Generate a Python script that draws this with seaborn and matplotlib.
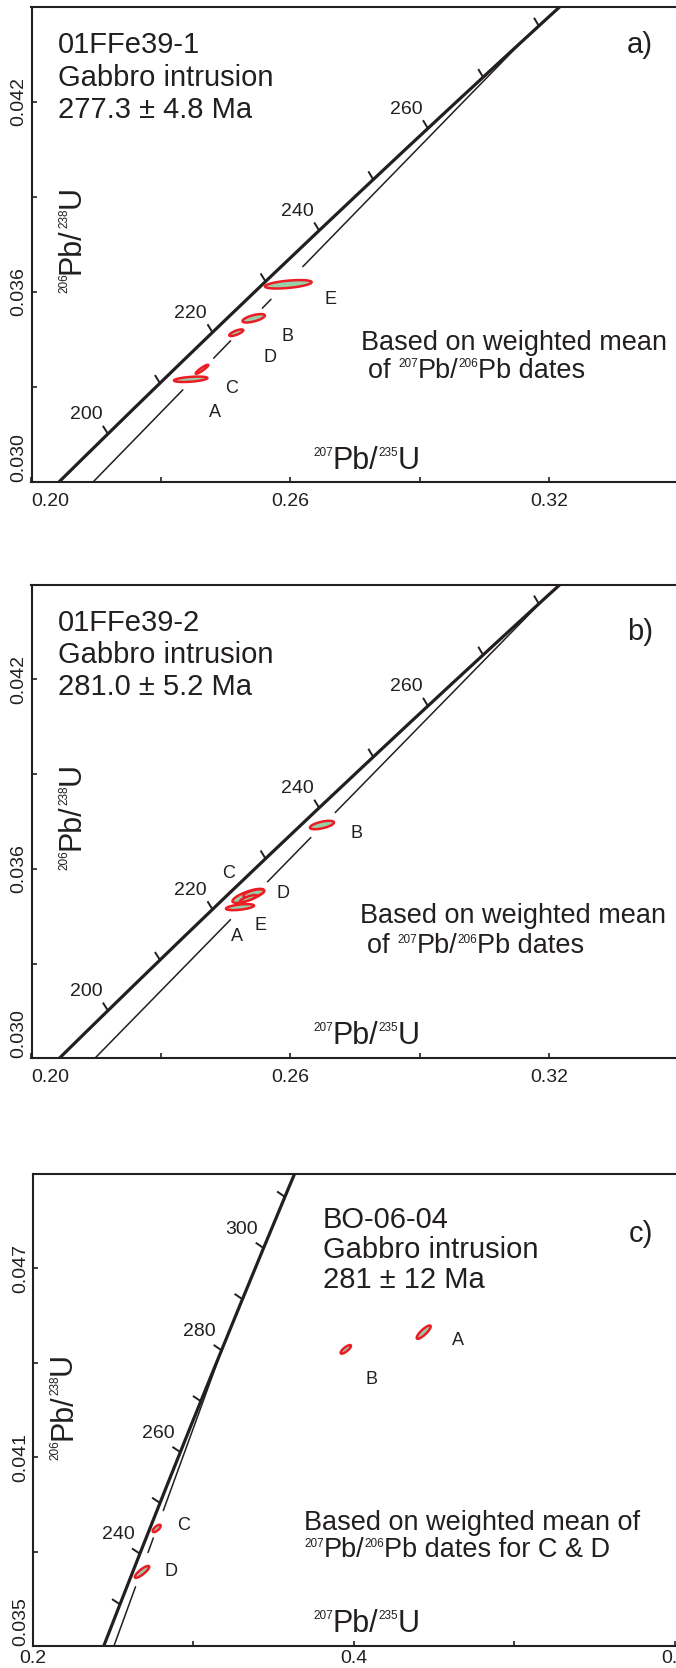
import numpy as np
import pandas as pd
import matplotlib
matplotlib.use("Agg")
import matplotlib.pyplot as plt
from matplotlib.transforms import IdentityTransform
import seaborn as sns

# decay constants (1/yr)
L238 = 1.55125e-10
L235 = 9.8485e-10

# ---- analyses: 207Pb/235U, 206Pb/238U, 2-sigma half extents, error correlation ----
a_labels = ["A", "C", "D", "B", "E"]
a_x = [0.23688, 0.23949, 0.24744, 0.25147, 0.25949]
a_y = [0.033234, 0.03355, 0.034705, 0.035160, 0.036234]
a_sx = [0.00387, 0.00146, 0.00162, 0.00259, 0.00540]
a_sy = [0.000085, 0.000142, 0.000104, 0.000133, 0.000133]
a_rho = [0.45, 0.92, 0.75, 0.65, 0.50]

b_labels = ["A", "C", "D", "E", "B"]
b_x = [0.24830, 0.25022, 0.25150, 0.25020, 0.26729]
b_y = [0.034787, 0.035144, 0.035220, 0.035060, 0.037387]
b_sx = [0.00324, 0.00366, 0.00240, 0.00190, 0.00278]
b_sy = [0.000095, 0.000221, 0.000130, 0.000110, 0.000133]
b_rho = [0.50, 0.75, 0.60, 0.80, 0.60]

c_labels = ["D", "C", "B", "A"]
c_x = [0.26796, 0.27712, 0.39501, 0.44358]
c_y = [0.037354, 0.038734, 0.044421, 0.044968]
c_sx = [0.00449, 0.00249, 0.00322, 0.00436]
c_sy = [0.000190, 0.000116, 0.000137, 0.000211]
c_rho = [0.85, 0.70, 0.80, 0.85]

# weighted mean 207Pb/206Pb ages (Ma) used as upper intercepts
ages = {"a": 277.3, "b": 281.0, "c": 281.0}
age_err = {"a": "4.8", "b": "5.2", "c": "12"}

# concordia age marks
a_ticks = list(range(200, 290, 10))
c_ticks = list(range(230, 320, 10))
a_tick_labels = [200, 220, 240, 260]
c_tick_labels = [240, 260, 280, 300]

# visible stretches of the Pb-loss chord (206Pb/238U ranges; None = intercept)
a_chord = [(0.030, 0.03290), (0.03390, 0.03445), (0.03548, 0.03576), (0.03679, None)]
b_chord = [(0.030, 0.03439), (0.03559, 0.03699), (0.03778, None)]
c_chord = [(0.035, 0.03688), (0.03797, 0.03843), (0.03930, None)]

# label offsets from ellipse centres (pixels)
a_lab_off = [(24, -33), (30, -19), (34, -25), (34, -18), (42, -15)]
b_lab_off = [(-3, -29), (-20, 22), (29, 0), (12, -27), (35, -8)]
c_lab_off = [(29, 0), (27, 3), (26, -30), (34, -8)]

W, H = 676, 1668
DPI = 100

sns.set_theme(style="ticks")
plt.rcParams["font.family"] = ["Liberation Sans", "DejaVu Sans"]
plt.rcParams["mathtext.default"] = "regular"

INK = "#231F20"
RED = "#ED1C24"
GREEN = "#98CEA8"
MAIN = ["Liberation Sans", "DejaVu Sans"]
NARROW = ["Liberation Sans Narrow", "Liberation Sans", "DejaVu Sans"]

fig = plt.figure(figsize=(W / DPI, H / DPI), dpi=DPI)
renderer = fig.canvas.get_renderer()


def concordia(t_ma):
    t = np.asarray(t_ma, dtype=float) * 1e6
    return np.expm1(L235 * t), np.expm1(L238 * t)


def place_axes(left_px, top_px, bottom_px, width_px):
    return fig.add_axes([left_px / W, 1 - bottom_px / H, width_px / W, (bottom_px - top_px) / H])


def style_axes(ax, xticks, xlabels, yticks, ylabels, first_x_left=False, xpad=8):
    ax.set_xticks(xticks)
    ax.set_xticklabels(xlabels)
    ax.set_yticks(yticks)
    ax.set_yticklabels(ylabels)
    ax.tick_params(direction="in", length=3.3, width=1.2, colors=INK, labelsize=14,
                   top=False, right=False)
    ax.tick_params(axis="x", pad=xpad)
    ax.tick_params(axis="y", pad=3)
    ylabs = ax.get_yticklabels()
    for lab in ylabs:
        lab.set_rotation(90)
        lab.set_va("center")
    ylabs[0].set_va("bottom")
    if first_x_left:
        ax.get_xticklabels()[0].set_ha("left")
    for s in ax.spines.values():
        s.set_linewidth(1.5)
        s.set_color(INK)
    ax.grid(False)


def finish_axes(ax):
    ax.set_xlabel("")
    ax.set_ylabel("")


def rich_text(x_px, y_px, pieces, rotation=0):
    """Draw a run of text pieces (text, size, family, rise_px) starting at a baseline point."""
    adv = 0.0
    for s, size, fam, rise in pieces:
        if rotation == 0:
            xd, yd = x_px + adv, (H - y_px) + rise
        else:
            xd, yd = x_px - rise, (H - y_px) + adv
        t = fig.text(xd, yd, s, fontsize=size, family=fam, color=INK, rotation=rotation,
                     ha="left", va="baseline", rotation_mode="anchor",
                     transform=IdentityTransform())
        bb = t.get_window_extent(renderer)
        adv += bb.width if rotation == 0 else bb.height


def iso_label(x_px, y_px, a, b, elem, rotation=0, main=22, sup=8.5, rise=13):
    rich_text(x_px, y_px, [(a, sup, NARROW, rise), ("Pb/", main, MAIN, 0),
                           (b, sup, NARROW, rise), (elem, main, MAIN, 0)],
              rotation=rotation)


def draw_concordia(ax, tick_ages, tick_labels):
    t = np.linspace(150, 350, 600)
    cx, cy = concordia(t)
    df = pd.DataFrame({"x": cx, "y": cy})
    sns.lineplot(data=df, x="x", y="y", ax=ax, sort=False, estimator=None,
                 color=INK, linewidth=2.3, zorder=2)
    ang = np.deg2rad(78)
    rot = np.array([[np.cos(ang), -np.sin(ang)], [np.sin(ang), np.cos(ang)]])
    inv = ax.transData.inverted()
    for age in tick_ages:
        p0 = ax.transData.transform(np.column_stack(concordia(age)))[0]
        p1 = ax.transData.transform(np.column_stack(concordia(age + 0.5)))[0]
        d = (p1 - p0) / np.hypot(*(p1 - p0))
        p2 = p0 + rot @ d * 9.5
        seg = inv.transform(np.vstack([p0, p2]))
        ax.plot(seg[:, 0], seg[:, 1], color=INK, lw=1.4, solid_capstyle="butt", zorder=2)
        if age in tick_labels:
            ax.annotate(str(age), xy=tuple(np.ravel(concordia(age))), xytext=(-22, 19),
                        textcoords="offset pixels", ha="center", va="center",
                        fontsize=14, color=INK)


def draw_chord(ax, age, stretches):
    xi, yi = concordia(age)
    slope = yi / xi
    for y0, y1 in stretches:
        y1 = yi if y1 is None else y1
        ys = np.array([y0, y1])
        df = pd.DataFrame({"x": ys / slope, "y": ys})
        sns.lineplot(data=df, x="x", y="y", ax=ax, sort=False, estimator=None,
                     color=INK, linewidth=1.1, zorder=2)


def draw_ellipses(ax, labels, xs, ys, sxs, sys_, rhos, offsets):
    phi = np.linspace(0, 2 * np.pi, 200)
    for lab, x, y, sx, sy, r, off in zip(labels, xs, ys, sxs, sys_, rhos, offsets):
        ex = x + sx * np.cos(phi)
        ey = y + sy * (r * np.cos(phi) + np.sqrt(1 - r * r) * np.sin(phi))
        ax.fill(ex, ey, facecolor=GREEN, edgecolor=RED, linewidth=1.8, zorder=3)
        ax.annotate(lab, xy=(x, y), xytext=off, textcoords="offset pixels",
                    ha="center", va="center", fontsize=13, color=INK)


ab_xticks = np.arange(0.20, 0.3801, 0.03)
ab_xlabels = ["0.20", "", "0.26", "", "0.32", "", ""]
ab_yticks = np.arange(0.030, 0.0451, 0.003)
ab_ylabels = ["0.030", "", "0.036", "", "0.042", ""]

# ---------------- panel a ----------------
ax_a = place_axes(31.5, 6.7, 481.7, 777)
ax_a.set_xlim(0.20, 0.38)
ax_a.set_ylim(0.030, 0.045)
style_axes(ax_a, ab_xticks, ab_xlabels, ab_yticks, ab_ylabels, first_x_left=True)
draw_concordia(ax_a, a_ticks, a_tick_labels)
draw_chord(ax_a, ages["a"], a_chord)
draw_ellipses(ax_a, a_labels, a_x, a_y, a_sx, a_sy, a_rho, a_lab_off)
finish_axes(ax_a)

# ---------------- panel b ----------------
ax_b = place_axes(31.5, 584.6, 1058.3, 777)
ax_b.set_xlim(0.20, 0.38)
ax_b.set_ylim(0.030, 0.045)
style_axes(ax_b, ab_xticks, ab_xlabels, ab_yticks, ab_ylabels, first_x_left=True)
draw_concordia(ax_b, a_ticks, a_tick_labels)
draw_chord(ax_b, ages["b"], b_chord)
draw_ellipses(ax_b, b_labels, b_x, b_y, b_sx, b_sy, b_rho, b_lab_off)
finish_axes(ax_b)

# ---------------- panel c ----------------
ax_c = place_axes(33, 1173.7, 1646, 802)
ax_c.set_xlim(0.2, 0.7)
ax_c.set_ylim(0.035, 0.050)
style_axes(ax_c, np.arange(0.2, 0.701, 0.1), ["0.2", "", "0.4", "", "0.6", ""],
           np.arange(0.035, 0.0501, 0.003), ["0.035", "", "0.041", "", "0.047", ""], xpad=3)
draw_concordia(ax_c, c_ticks, c_tick_labels)
draw_chord(ax_c, ages["c"], c_chord)
draw_ellipses(ax_c, c_labels, c_x, c_y, c_sx, c_sy, c_rho, c_lab_off)
finish_axes(ax_c)

# ---------------- annotations ----------------
TITLE = 21
BODY = 19.5


def block(x_px, baselines, lines, size):
    for yb, s in zip(baselines, lines):
        fig.text(x_px, H - yb, s, fontsize=size, color=INK, ha="left", va="baseline",
                 transform=IdentityTransform())


block(58, [53.3, 86, 118.3], ["01FFe39-1", "Gabbro intrusion", f"{ages['a']:.1f} \u00b1 {age_err['a']} Ma"], TITLE)
block(58, [631, 663, 695], ["01FFe39-2", "Gabbro intrusion", f"{ages['b']:.1f} \u00b1 {age_err['b']} Ma"], TITLE)
block(323, [1228.3, 1258.3, 1288.3], ["BO-06-04", "Gabbro intrusion", f"{ages['c']:.0f} \u00b1 {age_err['c']} Ma"], TITLE)

block(627, [53.3], ["a)"], TITLE)
block(627, [640], ["b)"], TITLE)
block(629, [1241.7], ["c)"], TITLE)

block(361, [350], ["Based on weighted mean"], BODY)
rich_text(368, 377.7, [("of ", BODY, MAIN, 0), ("207", 8.5, NARROW, 10.5), ("Pb/", BODY, MAIN, 0),
                       ("206", 8.5, NARROW, 10.5), ("Pb dates", BODY, MAIN, 0)])
block(360, [923], ["Based on weighted mean"], BODY)
rich_text(367, 953.3, [("of ", BODY, MAIN, 0), ("207", 8.5, NARROW, 10.5), ("Pb/", BODY, MAIN, 0),
                       ("206", 8.5, NARROW, 10.5), ("Pb dates", BODY, MAIN, 0)])
block(304, [1530], ["Based on weighted mean of"], BODY)
rich_text(304, 1557.3, [("207", 8.5, NARROW, 10.5), ("Pb/", BODY, MAIN, 0),
                        ("206", 8.5, NARROW, 10.5), ("Pb dates for C & D", BODY, MAIN, 0)])

# axis titles
iso_label(313, 469.3, "207", "235", "U")
iso_label(313, 1044, "207", "235", "U")
iso_label(313, 1631.7, "207", "235", "U")
iso_label(80, 293.3, "206", "238", "U", rotation=90)
iso_label(80, 870, "206", "238", "U", rotation=90)
iso_label(71, 1460, "206", "238", "U", rotation=90)

fig.savefig("out.png", dpi=DPI, facecolor="white")
